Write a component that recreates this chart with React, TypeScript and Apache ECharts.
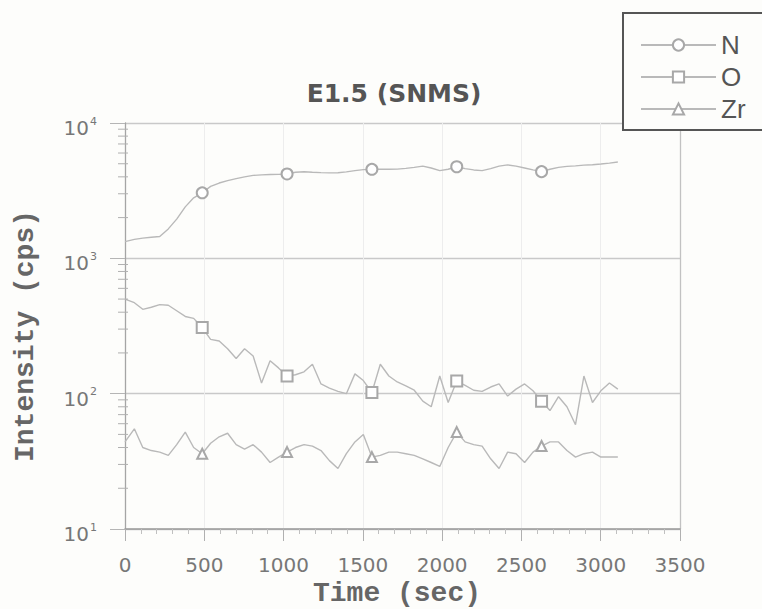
import React, { useEffect, useRef } from "react";
import * as echarts from "echarts";

// Time axis (seconds) shared by all three profiles
const timeSec = [
  0, 59, 112, 166, 219, 273, 326, 380, 433, 487,
  540, 594, 647, 701, 754, 808, 861, 915, 968, 1022,
  1075, 1129, 1182, 1236, 1289, 1343, 1396, 1450, 1503, 1557,
  1610, 1664, 1717, 1771, 1824, 1878, 1931, 1985, 2038, 2092,
  2145, 2199, 2252, 2306, 2359, 2413, 2466, 2520, 2573, 2627,
  2680, 2734, 2787, 2841, 2894, 2948, 3001, 3055, 3108,
];

const nCps = [
  1330, 1380, 1410, 1430, 1450, 1650, 1950, 2400, 2800, 3050,
  3400, 3600, 3750, 3880, 4000, 4100, 4140, 4160, 4170, 4200,
  4330, 4360, 4330, 4300, 4280, 4290, 4350, 4450, 4520, 4550,
  4560, 4550, 4560, 4620, 4700, 4800, 4650, 4450, 4550, 4750,
  4600, 4500, 4450, 4600, 4800, 4900, 4800, 4650, 4500, 4370,
  4550, 4700, 4780, 4820, 4880, 4920, 4980, 5050, 5150,
];

const oCps = [
  500, 470, 420, 435, 455, 450, 410, 372, 360, 308,
  252, 245, 215, 182, 215, 190, 120, 175, 155, 135,
  138, 145, 165, 118, 110, 104, 100, 140, 125, 102,
  165, 135, 122, 114, 106, 88, 80, 135, 86, 124,
  115, 106, 104, 112, 118, 96, 108, 118, 105, 88,
  75, 95, 80, 59, 135, 86, 105, 120, 108,
];

const zrCps = [
  44, 55, 40, 38, 37, 35, 42, 52, 40, 36,
  43, 48, 51, 42, 39, 42, 37, 31, 34, 37,
  40, 42, 41, 38, 32, 28, 36, 44, 50, 34,
  35, 37, 37, 36, 35, 33, 31, 29, 40, 52,
  44, 42, 41, 33, 28, 37, 36, 31, 37, 41,
  44, 44, 38, 34, 36, 37, 34, 34, 34,
];

// samples that carry a marker symbol
const markerIndex = [9, 19, 29, 39, 49];

const seriesNames = ["N", "O", "Zr"];
const xTicks = { min: 0, max: 3500, step: 500 };
const yRange = { min: 10, max: 10000 };

export default function App() {
  const ref = useRef<HTMLDivElement>(null);

  useEffect(() => {
    document.body.style.margin = "0";
    if (!ref.current) return;
    const chart = echarts.init(ref.current, null, { renderer: "svg" });

    const minorY: number[][] = [];
    [10, 100, 1000].forEach((d) => {
      for (let k = 2; k <= 9; k++) minorY.push([0, k * d]);
    });

    const markSize = (size: number) => (_v: any, p: any) =>
      markerIndex.includes(p.dataIndex) ? size : 0;

    const lineSeries = (name: string, values: number[], symbol: string, size: number) => ({
      name,
      type: "line",
      data: timeSec.map((t, i) => [t, values[i]]),
      symbol,
      symbolSize: markSize(size),
      showSymbol: true,
      showAllSymbol: true,
      lineStyle: { color: "#b9b9b9", width: 1.4 },
      itemStyle: { color: "#a8a8a8", borderWidth: 1.3 },
      z: 3,
    });

    const option: any = {
      animation: false,
      backgroundColor: "#fdfdfb",
      grid: { left: 125, right: 82, top: 123, bottom: 80, containLabel: false },
      xAxis: {
        type: "value",
        min: xTicks.min,
        max: xTicks.max,
        interval: xTicks.step,
        axisLine: { show: true, onZero: false, lineStyle: { color: "#9a9a9a", width: 1.5 } },
        axisTick: { show: true, length: 12, lineStyle: { color: "#b0b0b0" } },
        minorTick: { show: true, splitNumber: 5, length: 5, lineStyle: { color: "#c0c0c0" } },
        splitLine: { show: true, lineStyle: { color: "#ededed" } },
        axisLabel: {
          color: "#777",
          fontSize: 20,
          fontFamily: "DejaVu Sans",
          margin: 26,
          formatter: (v: number) => String(v),
        },
      },
      yAxis: [
        {
          type: "log",
          logBase: 10,
          min: yRange.min,
          max: yRange.max,
          axisLine: { show: true, lineStyle: { color: "#a5a5a5", width: 1.3 } },
          axisTick: { show: true, length: 15, lineStyle: { color: "#b5b5b5" } },
          splitLine: { show: true, lineStyle: { color: "#c9c9c9", width: 1.3 } },
          axisLabel: {
            margin: 28,
            padding: [10, 0, 0, 0],
            formatter: (v: number) => `{b|10}{e|${Math.round(Math.log10(v))}}`,
            rich: {
              b: { fontSize: 20, color: "#777", fontFamily: "DejaVu Sans" },
              e: { fontSize: 11, color: "#777", fontFamily: "DejaVu Sans", padding: [0, 0, 14, 1] },
            },
          },
        },
        {
          type: "log",
          logBase: 10,
          min: yRange.min,
          max: yRange.max,
          position: "right",
          axisLine: { show: true, lineStyle: { color: "#c2c2c2", width: 1.3 } },
          axisTick: { show: false },
          axisLabel: { show: false },
          splitLine: { show: false },
        },
      ],
      legend: {
        data: seriesNames,
        orient: "vertical",
        left: 635,
        top: 27,
        itemWidth: 75,
        itemHeight: 14,
        itemGap: 6,
        itemStyle: { color: "#a8a8a8" },
        textStyle: { fontSize: 26, color: "#555", fontFamily: "Liberation Sans" },
        z: 20,
      },
      graphic: [
        {
          type: "rect",
          z: 10,
          shape: { x: 623, y: 13, width: 170, height: 117 },
          style: { fill: "#fdfdfb", stroke: "#555", lineWidth: 2 },
        },
        {
          type: "text",
          x: 394,
          y: 93,
          z: 10,
          style: {
            text: "E1.5 (SNMS)",
            fontSize: 25,
            fontWeight: "bold",
            fontFamily: "DejaVu Sans",
            fill: "#555",
            align: "center",
            verticalAlign: "middle",
          },
        },
        {
          type: "text",
          x: 397,
          y: 593,
          style: {
            text: "Time (sec)",
            fontSize: 28,
            fontWeight: "bold",
            fontFamily: "Liberation Mono",
            fill: "#666",
            align: "center",
            verticalAlign: "middle",
          },
        },
        {
          type: "text",
          x: 25,
          y: 336,
          rotation: Math.PI / 2,
          style: {
            text: "Intensity (cps)",
            fontSize: 28,
            fontWeight: "bold",
            fontFamily: "Liberation Mono",
            fill: "#666",
            align: "center",
            verticalAlign: "middle",
          },
        },
      ],
      series: [
        lineSeries("N", nCps, "emptyCircle", 11),
        lineSeries("O", oCps, "emptyRect", 11),
        lineSeries("Zr", zrCps, "emptyTriangle", 10),
        {
          type: "custom",
          coordinateSystem: "cartesian2d",
          silent: true,
          clip: false,
          z: 4,
          data: minorY,
          renderItem: (_params: any, api: any) => {
            const p = api.coord([api.value(0), api.value(1)]);
            return {
              type: "line",
              shape: { x1: p[0] - 7, y1: p[1], x2: p[0] + 3, y2: p[1] },
              style: { stroke: "#b0b0b0", lineWidth: 1 },
            };
          },
        },
      ],
    };

    chart.setOption(option);
    return () => chart.dispose();
  }, []);

  return <div ref={ref} style={{ width: 762, height: 609 }} />;
}
